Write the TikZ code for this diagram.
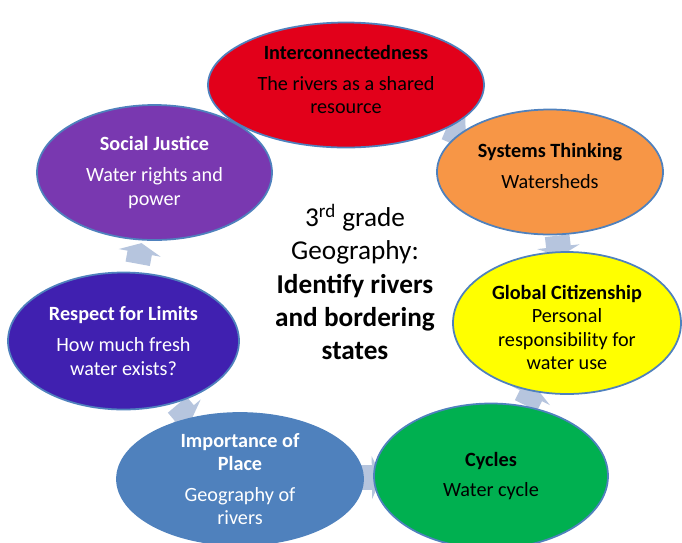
\documentclass[tikz,border=0pt]{standalone}
\usepackage{fontspec}
\setmainfont{Carlito}
\usepackage{tikz}
\usetikzlibrary{calc,shapes,backgrounds}

\definecolor{linec}{RGB}{79,129,189}
\definecolor{flowc}{RGB}{182,197,222}
\definecolor{redc}{RGB}{226,0,26}
\definecolor{orangec}{RGB}{247,150,70}
\definecolor{yellowc}{RGB}{255,255,0}
\definecolor{greenc}{RGB}{0,176,80}
\definecolor{steelc}{RGB}{79,129,189}
\definecolor{indigoc}{RGB}{64,32,176}
\definecolor{purplec}{RGB}{121,56,176}

\begin{document}
\begin{tikzpicture}[
    topic/.style={ellipse,draw=linec,line width=1pt,inner sep=0pt,align=center,
      font=\fontsize{11.5}{13.4}\selectfont},
    flow/.style={single arrow,fill=flowc,draw=none,sloped,inner xsep=0pt,inner ysep=0.24cm,
      minimum height=0.42cm,minimum width=0.84cm,
      single arrow head extend=0.18cm,single arrow tip angle=130}
  ]
    \useasboundingbox (0,0) rectangle (13.64,-10.84);

    \node [align=center,font=\fontsize{15.5}{18.9}\selectfont] (0) at (7.1,-5.64) {
      3\textsuperscript{rd} grade\\
      Geography:\\
      \textbf{Identify rivers}\\
      \textbf{and bordering}\\
      \textbf{states}
    };

    \node [topic,fill=redc,minimum width=5.52cm,minimum height=2.5cm] (1) at (6.92,-1.70) {
      \textbf{Interconnectedness}\\[4pt]
      The rivers as a shared\\resource\rule[-6pt]{0pt}{0pt}
    };
    \node [topic,fill=orangec,minimum width=4.52cm,minimum height=2.5cm] (2) at (11.0,-3.44) {
      \textbf{Systems Thinking}\\[4pt]
      Watersheds\rule[-7pt]{0pt}{0pt}
    };
    \node [topic,fill=yellowc,minimum width=4.56cm,minimum height=2.84cm] (3) at (11.34,-6.46) {
      \rule{0pt}{13pt}\textbf{Global Citizenship}\\
      Personal\\responsibility for\\water use
    };
    \node [topic,fill=greenc,minimum width=4.68cm,minimum height=2.9cm] (4) at (9.82,-9.52) {
      \textbf{Cycles}\\[4pt]
      Water cycle
    };
    \node [topic,fill=steelc,text=white,minimum width=4.92cm,minimum height=2.64cm] (5) at (4.8,-9.58) {
      \textbf{Importance of}\\\textbf{Place}\\[4pt]
      Geography of\\rivers
    };
    \node [topic,fill=indigoc,text=white,minimum width=4.62cm,minimum height=2.74cm] (6) at (2.47,-6.82) {
      \textbf{Respect for Limits}\\[4pt]
      How much fresh\\water exists?
    };
    \node [topic,fill=purplec,text=white,minimum width=4.7cm,minimum height=2.7cm] (7) at (3.09,-3.45) {
      \textbf{Social Justice}\\[4pt]
      Water rights and\\power
    };

    % arrows go behind the ellipses
    \begin{scope}[on background layer]
      \path (1) -- node [flow] {} (2);
      \path (2) -- node [flow] {} (3);
      \path (3) -- node [flow] {} (4);
      \path (4) -- node [flow] {} (5);
      \path (5) -- node [flow] {} (6);
      \path (6) -- node [flow] {} (7);
    \end{scope}
  \end{tikzpicture}
\end{document}
